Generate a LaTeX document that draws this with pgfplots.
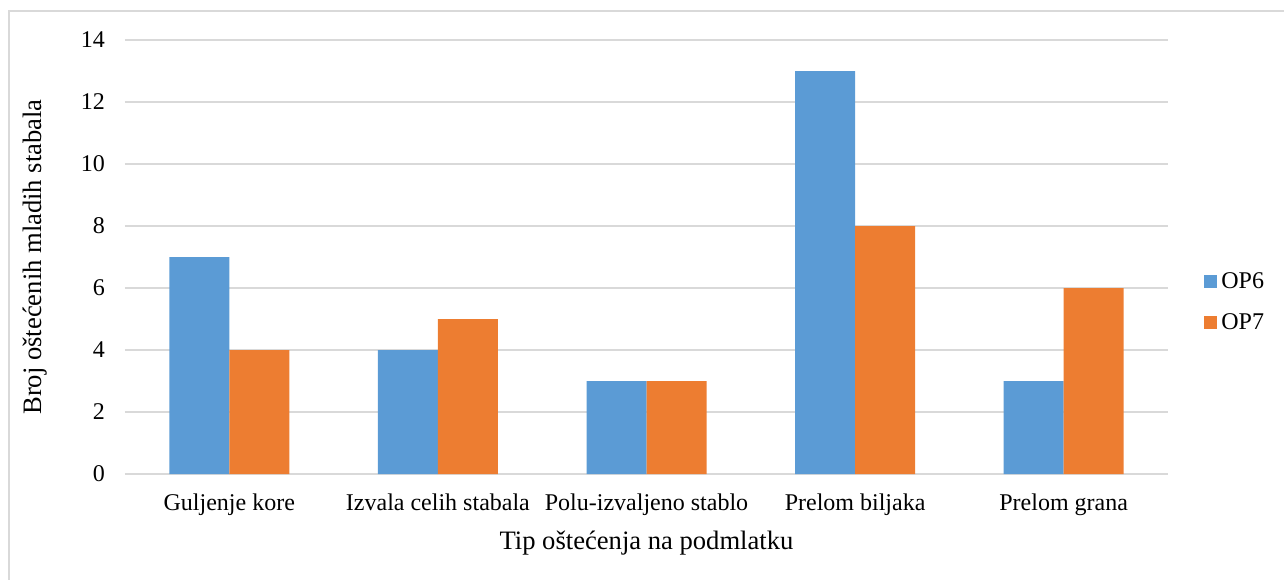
\documentclass[border=0pt]{standalone}
\usepackage{pgfplots}
\pgfplotsset{compat=1.18}
\usepackage{fontspec}
\setmainfont{Liberation Serif}
\definecolor{opsix}{HTML}{5B9BD5}
\definecolor{opseven}{HTML}{ED7D31}
\definecolor{gridc}{HTML}{D9D9D9}
\begin{document}
\begin{tikzpicture}
\useasboundingbox (-62.5pt,-52.5pt) rectangle (579.5pt,237pt);
\draw[gridc, line width=0.75pt] (-58pt,-60pt) -- (-58pt,231.5pt) -- (590pt,231.5pt);
\begin{axis}[
  at={(0,0)}, anchor=south west,
  scale only axis, width=521.5pt, height=217pt,
  ybar=0pt, bar width=30pt,
  ymin=0, ymax=14, ytick={0,2,...,14},
  xmin=-0.5, xmax=4.5,
  xtick={0,1,2,3,4},
  xticklabels={Guljenje kore, Izvala celih stabala, Polu-izvaljeno stablo, Prelom biljaka, Prelom grana},
  major tick length=0pt,
  axis line style={draw=none},
  axis x line*=bottom,
  ymajorgrids, grid style={gridc, line width=0.75pt},
  extra y ticks={0}, extra y tick style={grid style={gridc, line width=0.9pt}},
  extra y tick labels={},
  tick label style={font=\fontsize{12}{14}\selectfont},
  /pgf/number format/assume math mode=true,
  yticklabel style={xshift=-6.5pt},
  xticklabel style={yshift=-6.5pt},
  xlabel={Tip oštećenja na podmlatku},
  ylabel={Broj oštećenih mladih stabala},
  every axis x label/.style={at={(axis description cs:0.5,0)}, anchor=center, yshift=-34.5pt, font=\fontsize{13.3}{15}\selectfont},
  every axis y label/.style={at={(axis description cs:0,0.5)}, anchor=center, xshift=-45pt, rotate=90, font=\fontsize{13.3}{15}\selectfont},
  legend style={at={(1,0.396)}, anchor=west, xshift=18pt, draw=none, fill=none,
    font=\fontsize{12}{14}\selectfont, row sep=7pt, inner sep=0pt},
  legend cell align=left,
  legend image code/.code={\fill[#1] (0pt,-3.25pt) rectangle (6.5pt,3.25pt);},
]
\addplot[fill=opsix, draw=none] coordinates {(0,7) (1,4) (2,3) (3,13) (4,3)};
\addplot[fill=opseven, draw=none] coordinates {(0,4) (1,5) (2,3) (3,8) (4,6)};
\legend{OP6, OP7}
\end{axis}
\end{tikzpicture}
\end{document}
